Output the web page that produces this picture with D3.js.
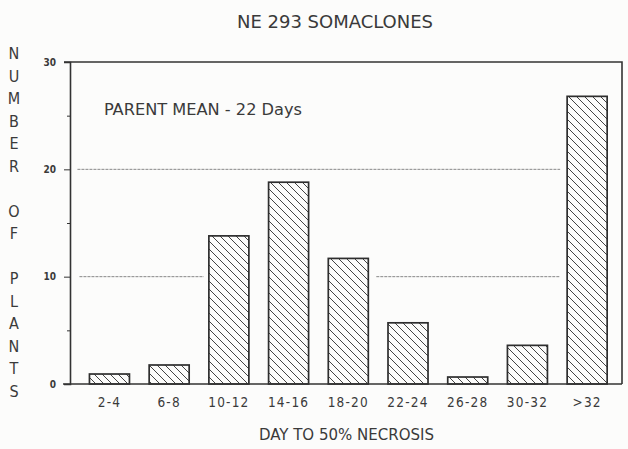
<!DOCTYPE html>
<html>
<head>
<meta charset="utf-8">
<script src="https://cdn.jsdelivr.net/npm/d3@7"></script>
<style>
  body { margin: 0; background: #fcfcfb; }
  svg { display: block; }
  text { font-family: 'DejaVu Sans Condensed', 'Liberation Sans Narrow', sans-serif; fill: #3a3a3a; }
  .axis path, .axis line { stroke: #333; }
</style>
</head>
<body>
<div id="vis"></div>
<script>
'use strict'

const categories = ['2-4', '6-8', '10-12', '14-16', '18-20', '22-24', '26-28', '30-32', '>32']
const plants = [0.93, 1.77, 13.8, 18.8, 11.7, 5.7, 0.65, 3.6, 26.8]
const majorTicks = [0, 10, 20, 30]
const minorTicks = [5, 15, 25]
const yLabelLetters = ['N', 'U', 'M', 'B', 'E', 'R', '', 'O', 'F', '', 'P', 'L', 'A', 'N', 'T', 'S']

const totalWidth = 628
const totalHeight = 449
const plot = { left: 70, right: 622, top: 62, bottom: 384 }

//
// SCALES
//

const x = d3.scaleBand()
  .domain(categories)
  .range([79.6, 617])
  .paddingInner(0.33)
  .paddingOuter(0.165)

const y = d3.scaleLinear()
  .domain([0, 30])
  .range([plot.bottom, plot.top])

const svg = d3.select('div#vis')
  .append('svg')
    .attr('width', totalWidth)
    .attr('height', totalHeight)

const defs = svg.append('defs')
defs.append('pattern')
    .attr('id', 'hatch')
    .attr('patternUnits', 'userSpaceOnUse')
    .attr('width', 8)
    .attr('height', 8)
  .append('path')
    .attr('d', 'M0,0 L8,8 M-2,6 L2,10 M6,-2 L10,2')
    .attr('stroke', '#444')
    .attr('stroke-width', 1)

//
// GRID (dotted, partly hidden by bars)
//

const grid = svg.append('g').classed('grid', true)
  .attr('stroke', '#888')
  .attr('stroke-width', 1)
  .attr('stroke-dasharray', '3,1')

grid.append('line')
  .attr('x1', x('2-4') - 12).attr('x2', x('>32') - 7)
  .attr('y1', y(20)).attr('y2', y(20))

grid.append('line')
  .attr('x1', x('2-4') - 10).attr('x2', x('10-12') - 5)
  .attr('y1', y(10)).attr('y2', y(10))

grid.append('line')
  .attr('x1', x('18-20') + x.bandwidth() + 8).attr('x2', x('>32') - 7)
  .attr('y1', y(10)).attr('y2', y(10))

//
// BARS
//

svg.append('g')
  .selectAll('rect')
  .data(categories)
  .join('rect')
    .attr('x', d => x(d))
    .attr('y', (d, i) => y(plants[i]))
    .attr('width', x.bandwidth())
    .attr('height', (d, i) => y(0) - y(plants[i]))
    .attr('fill', 'url(#hatch)')
    .attr('stroke', '#2e2e2e')
    .attr('stroke-width', 1.7)

//
// FRAME & AXES
//

svg.append('path')
  .attr('d', `M${plot.left - 6},${plot.top} H${plot.right} V${plot.bottom} M63,${plot.bottom} H${plot.right}`)
  .attr('fill', 'none')
  .attr('stroke', '#333')
  .attr('stroke-width', 1.6)

const yAxis = d3.axisLeft(y)
  .tickValues(majorTicks)
  .tickSize(6)
  .tickPadding(8)
  .tickFormat(d3.format('d'))

svg.append('g')
  .classed('axis', true)
  .attr('transform', `translate(${plot.left},0)`)
  .call(yAxis)
  .call(g => g.select('.domain').attr('stroke-width', 1.6))
  .call(g => g.selectAll('text')
    .attr('font-size', 10).attr('font-weight', 'bold').attr('fill', '#333'))

svg.append('g')
  .classed('axis', true)
  .attr('transform', `translate(${plot.left},0)`)
  .call(d3.axisLeft(y).tickValues(minorTicks).tickSize(3).tickFormat(''))
  .call(g => g.select('.domain').remove())

const xAxis = d3.axisBottom(x).tickSize(0).tickPadding(13)

svg.append('g')
  .classed('axis', true)
  .attr('transform', `translate(0,${plot.bottom})`)
  .call(xAxis)
  .call(g => g.select('.domain').remove())
  .call(g => g.selectAll('text')
    .attr('font-size', 13.5)
    .attr('letter-spacing', 1.2)
    .attr('fill', '#3a3a3a'))

//
// TEXTS
//

svg.append('text')
  .attr('x', 237).attr('y', 28)
  .attr('font-size', 17)
  .attr('textLength', 196).attr('lengthAdjust', 'spacingAndGlyphs')
  .text('NE 293 SOMACLONES')

svg.append('text')
  .attr('x', 104).attr('y', 115)
  .attr('font-size', 15)
  .attr('textLength', 198).attr('lengthAdjust', 'spacingAndGlyphs')
  .text('PARENT MEAN  -  22 Days')

svg.append('text')
  .attr('x', 259).attr('y', 440)
  .attr('font-size', 15)
  .attr('textLength', 175).attr('lengthAdjust', 'spacingAndGlyphs')
  .text('DAY TO 50% NECROSIS')

svg.append('g')
  .selectAll('text')
  .data(yLabelLetters)
  .join('text')
    .attr('x', 14)
    .attr('y', (d, i) => 59 + i * 22.5)
    .attr('text-anchor', 'middle')
    .attr('font-size', 16)
    .text(d => d)
</script>
</body>
</html>
